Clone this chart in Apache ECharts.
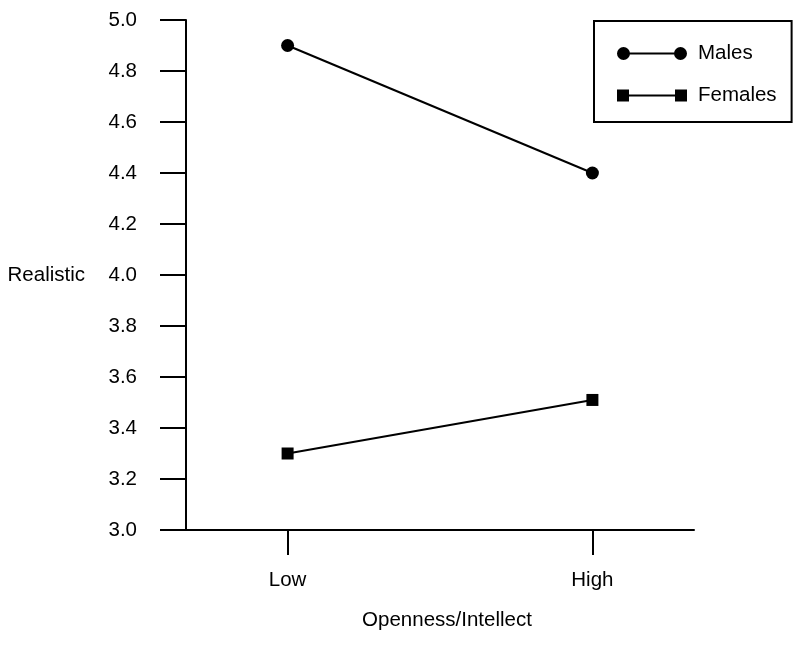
<!DOCTYPE html>
<html>
<head>
<meta charset="utf-8">
<script src="https://cdn.jsdelivr.net/npm/echarts@6/dist/echarts.min.js"></script>
<style>
html,body{margin:0;padding:0;background:#fff;}
#chart{width:800px;height:646px;}
</style>
</head>
<body>
<div id="chart"></div>
<script>
const categories = ['Low', 'High'];
const males = [4.9, 4.4];
const females = [3.3, 3.51];
const seriesNames = ['Males', 'Females'];
const yTicksMin = 3.0, yTicksMax = 5.0, yTickStep = 0.2;

const xPos = categories.map((c, i) => i + 1);
const FONT = 'Liberation Sans, Arial, sans-serif';
const FS = 20.5;

const circleIcon = 'path://M0,6.5 A6.5,6.5 0 1,1 13,6.5 A6.5,6.5 0 1,1 0,6.5 Z M12,5.4 L58,5.4 L58,7.6 L12,7.6 Z M57,6.5 A6.5,6.5 0 1,1 70,6.5 A6.5,6.5 0 1,1 57,6.5 Z';
const squareIcon = 'path://M0,0.5 L12,0.5 L12,12.5 L0,12.5 Z M12,5.4 L58,5.4 L58,7.6 L12,7.6 Z M58,0.5 L70,0.5 L70,12.5 L58,12.5 Z';

const chart = echarts.init(document.getElementById('chart'), null, {renderer: 'canvas'});
chart.setOption({
  backgroundColor: '#fff',
  animation: false,
  textStyle: {fontFamily: FONT, color: '#000'},
  grid: {left: 186, right: 106, top: 20, bottom: 116, containLabel: false, outerBoundsMode: 'none'},
  legend: {
    orient: 'vertical',
    left: 594,
    top: 21,
    padding: [22, 15, 16, 23],
    itemGap: 21,
    itemWidth: 70,
    itemHeight: 13,
    borderColor: '#000',
    borderWidth: 2,
    backgroundColor: '#fff',
    itemStyle: {color: '#000', borderWidth: 0},
    textStyle: {fontFamily: FONT, fontSize: FS, color: '#000', padding: [0, 0, 0, 6]},
    data: [
      {name: seriesNames[0], icon: circleIcon},
      {name: seriesNames[1], icon: squareIcon}
    ]
  },
  xAxis: {
    type: 'value',
    min: 2 / 3,
    max: 7 / 3,
    name: 'Openness/Intellect',
    nameLocation: 'middle',
    nameGap: 80,
    nameTextStyle: {fontFamily: FONT, fontSize: FS, color: '#000', padding: [0, 0, 0, 14]},
    splitLine: {show: false},
    axisLine: {show: true, onZero: false, lineStyle: {color: '#000', width: 2}},
    axisTick: {show: true, length: 25, customValues: xPos, lineStyle: {color: '#000', width: 2}},
    axisLabel: {
      customValues: xPos,
      margin: 40,
      fontFamily: FONT, fontSize: FS, color: '#000',
      formatter: v => categories[Math.round(v) - 1]
    }
  },
  yAxis: {
    type: 'value',
    min: yTicksMin,
    max: yTicksMax,
    interval: yTickStep,
    name: 'Realistic',
    nameLocation: 'middle',
    nameRotate: 0,
    nameGap: 101,
    nameTextStyle: {fontFamily: FONT, fontSize: FS, color: '#000', align: 'right', verticalAlign: 'middle'},
    splitLine: {show: false},
    axisLine: {show: true, onZero: false, lineStyle: {color: '#000', width: 2}},
    axisTick: {show: true, length: 26, lineStyle: {color: '#000', width: 2}},
    axisLabel: {
      margin: 49,
      fontFamily: FONT, fontSize: FS, color: '#000',
      formatter: v => v.toFixed(1)
    }
  },
  series: [
    {
      name: seriesNames[0],
      type: 'line',
      data: xPos.map((x, i) => [x, males[i]]),
      symbol: 'circle',
      symbolSize: 13,
      color: '#000',
      itemStyle: {color: '#000', borderWidth: 0},
      lineStyle: {color: '#000', width: 2}
    },
    {
      name: seriesNames[1],
      type: 'line',
      data: xPos.map((x, i) => [x, females[i]]),
      symbol: 'rect',
      symbolSize: 12,
      color: '#000',
      itemStyle: {color: '#000', borderWidth: 0},
      lineStyle: {color: '#000', width: 2}
    }
  ]
});
</script>
</body>
</html>
